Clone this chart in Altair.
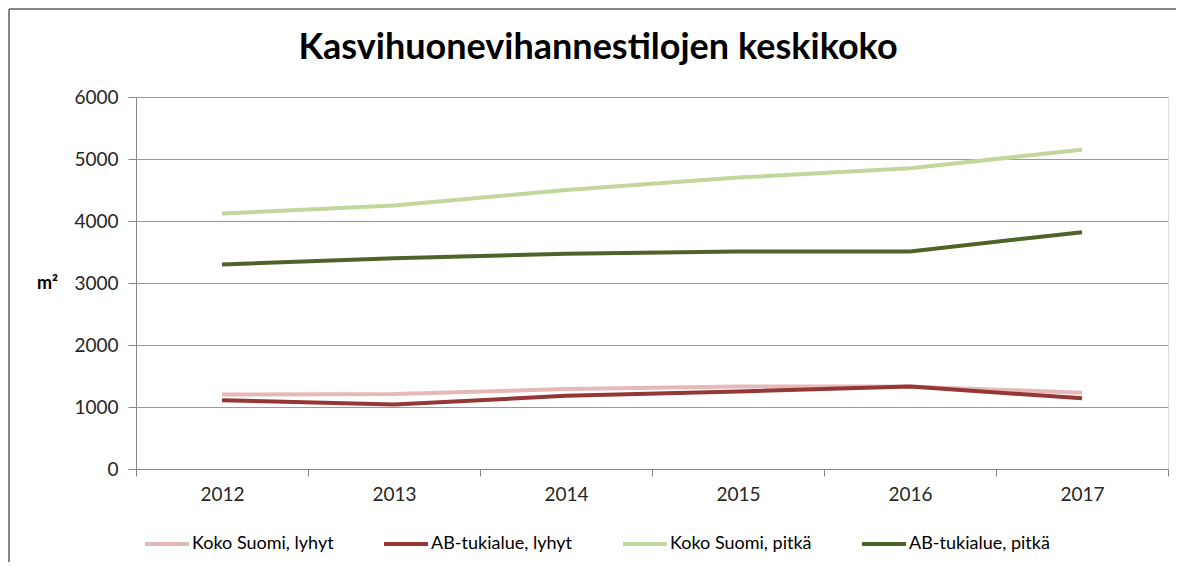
import altair as alt
import pandas as pd

years = ["2012", "2013", "2014", "2015", "2016", "2017"]
series_names = ["Koko Suomi, lyhyt", "AB-tukialue, lyhyt", "Koko Suomi, pitkä", "AB-tukialue, pitkä"]
koko_lyhyt = [1200, 1210, 1290, 1330, 1330, 1230]
ab_lyhyt = [1110, 1040, 1180, 1250, 1330, 1140]
koko_pitka = [4120, 4250, 4500, 4700, 4850, 5150]
ab_pitka = [3300, 3400, 3470, 3510, 3510, 3820]
colors = ["#E6B9B8", "#953735", "#C3D69B", "#4F6228"]
title_text = "Kasvihuonevihannestilojen keskikoko"

rows = []
for name, vals in zip(series_names, [koko_lyhyt, ab_lyhyt, koko_pitka, ab_pitka]):
    for y, v in zip(years, vals):
        rows.append({"Vuosi": y, "Sarja": name, "Arvo": v})
df = pd.DataFrame(rows)

FONT = "Lato"
W, H = 1032, 372

lines = alt.Chart(df).mark_line(strokeWidth=4).encode(
    x=alt.X("Vuosi:O",
            scale=alt.Scale(type="band", paddingInner=0, paddingOuter=0),
            axis=alt.Axis(title=None, labelAngle=0, tickBand="extent", tickSize=7,
                          domainColor="#868686", tickColor="#868686",
                          labelFontSize=19, labelColor="#262626", labelFont=FONT,
                          labelPadding=9, grid=False)),
    y=alt.Y("Arvo:Q",
            scale=alt.Scale(domain=[0, 6000], nice=False),
            axis=alt.Axis(values=[0, 1000, 2000, 3000, 4000, 5000, 6000], format="d", tickSize=8,
                          domainColor="#868686", tickColor="#868686", gridColor="#9a9a9a",
                          labelFontSize=19, labelColor="#262626", labelFont=FONT, labelPadding=10,
                          title="m²", titleAngle=0, titleX=-89, titleY=186, titleAlign="center",
                          titleBaseline="middle", titleFont=FONT, titleFontSize=18,
                          titleFontWeight="bold", titleColor="#000000")),
    color=alt.Color("Sarja:N",
                    scale=alt.Scale(domain=series_names, range=colors),
                    sort=series_names,
                    legend=alt.Legend(title=None, orient="none", legendX=7, legendY=423,
                                      direction="horizontal", columns=4, gridAlign="all",
                                      columnPadding=42, symbolType="stroke", symbolSize=1936,
                                      symbolStrokeWidth=4, labelOffset=1, labelFontSize=18,
                                      labelFont=FONT, labelColor="#000000")),
)

title = alt.Chart(pd.DataFrame({"t": [title_text]})).mark_text(
    font=FONT, fontSize=36, fontWeight="bold", color="#000000", align="center", baseline="middle"
).encode(x=alt.value(462), y=alt.value(-49), text="t:N")

frame_df = pd.DataFrame({"b": [1]})
border_left = alt.Chart(frame_df).mark_rule(stroke="#868686", strokeWidth=2).encode(
    x=alt.value(-127), y=alt.value(-88), y2=alt.value(520))
border_top = alt.Chart(frame_df).mark_rule(stroke="#868686", strokeWidth=2).encode(
    x=alt.value(-127), x2=alt.value(1100), y=alt.value(-88))

chart = alt.layer(border_left, border_top, lines, title).properties(
    width=W, height=H,
    autosize=alt.AutoSizeParams(type="none"),
    padding={"left": 128, "top": 89, "right": 8, "bottom": 93},
).configure_view(stroke=None).configure(background="white")

chart.save("out.html", embed_options={"renderer": "svg", "actions": False})
